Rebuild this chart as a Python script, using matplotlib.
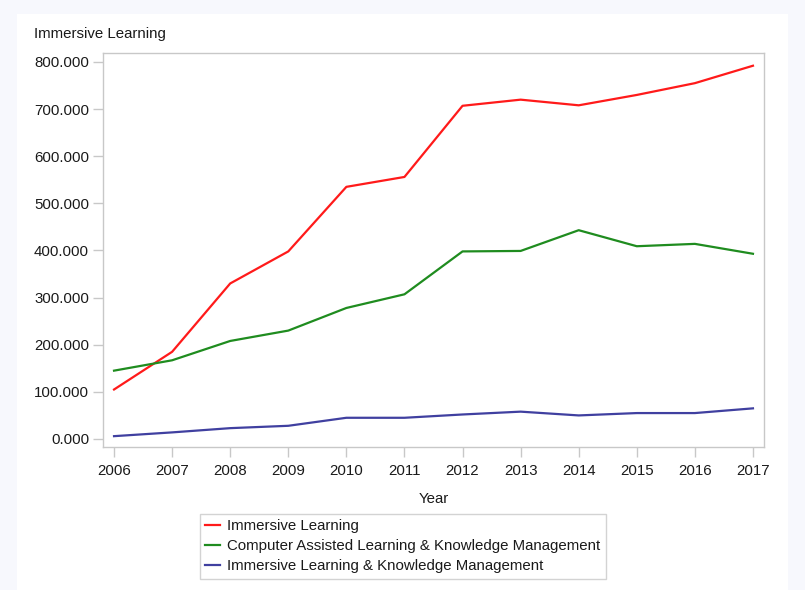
import matplotlib
matplotlib.use('Agg')
import matplotlib.pyplot as plt
from matplotlib.ticker import FuncFormatter
from matplotlib.patches import Rectangle

years = [2006, 2007, 2008, 2009, 2010, 2011, 2012, 2013, 2014, 2015, 2016, 2017]
immersive = [105, 185, 330, 398, 535, 556, 707, 720, 708, 730, 755, 792]
computer_km = [145, 167, 208, 230, 278, 307, 398, 399, 443, 409, 414, 393]
immersive_km = [6, 14, 23, 28, 45, 45, 52, 58, 50, 55, 55, 65]
series_names = ["Immersive Learning",
                "Computer Assisted Learning & Knowledge Management",
                "Immersive Learning & Knowledge Management"]
y_ticks = [0, 100, 200, 300, 400, 500, 600, 700, 800]

plt.rcParams['font.family'] = ['Liberation Sans', 'DejaVu Sans']
TXT = '#1a1a1a'
GRAY = '#c8c8c8'
FS = 10.8

fig = plt.figure(figsize=(8.05, 5.90), dpi=100)
fig.patch.set_facecolor('#f7f8fd')
# white panel behind everything
fig.patches.append(Rectangle((17/805, 0), (788-17)/805, 1 - 14/590,
                             transform=fig.transFigure, facecolor='white',
                             edgecolor='none', zorder=-10))

ax = fig.add_axes([103/805, 1 - 447/590, (764-103)/805, (447-53)/590])
ax.set_zorder(1)
ax.plot(years, immersive, color='#ff1a1a', lw=1.6, label=series_names[0])
ax.plot(years, computer_km, color='#1f8c1f', lw=1.6, label=series_names[1])
ax.plot(years, immersive_km, color='#4040a0', lw=1.6, label=series_names[2])

ax.set_xlim(2006 - 0.19, 2017 + 0.19)
ax.set_ylim(-17, 819)
ax.set_xticks(years)
ax.set_yticks(y_ticks)
ax.yaxis.set_major_formatter(FuncFormatter(lambda v, _: f"{v:.3f}"))
ax.tick_params(axis='both', length=7, width=1, color=GRAY, labelsize=FS,
               labelcolor=TXT)
ax.tick_params(axis='x', pad=5)
ax.tick_params(axis='y', pad=3)
for s in ax.spines.values():
    s.set_color(GRAY)
    s.set_linewidth(1)
ax.set_xlabel("Year", fontsize=FS, color=TXT, labelpad=10)

fig.text(34/805, 1 - 34/590, "Immersive Learning", fontsize=FS, color=TXT,
         ha='left', va='center')

leg = ax.legend(loc='upper left', bbox_to_anchor=(200/805, 1 - 514/590),
                bbox_transform=fig.transFigure, frameon=True, fancybox=False,
                fontsize=FS, handlelength=1.0, handletextpad=0.45,
                borderpad=0.35, labelspacing=0.4, borderaxespad=0)
leg.get_frame().set_edgecolor(GRAY)
leg.get_frame().set_linewidth(1)
for t in leg.get_texts():
    t.set_color(TXT)

fig.savefig('out.png', dpi=100, facecolor=fig.get_facecolor())
